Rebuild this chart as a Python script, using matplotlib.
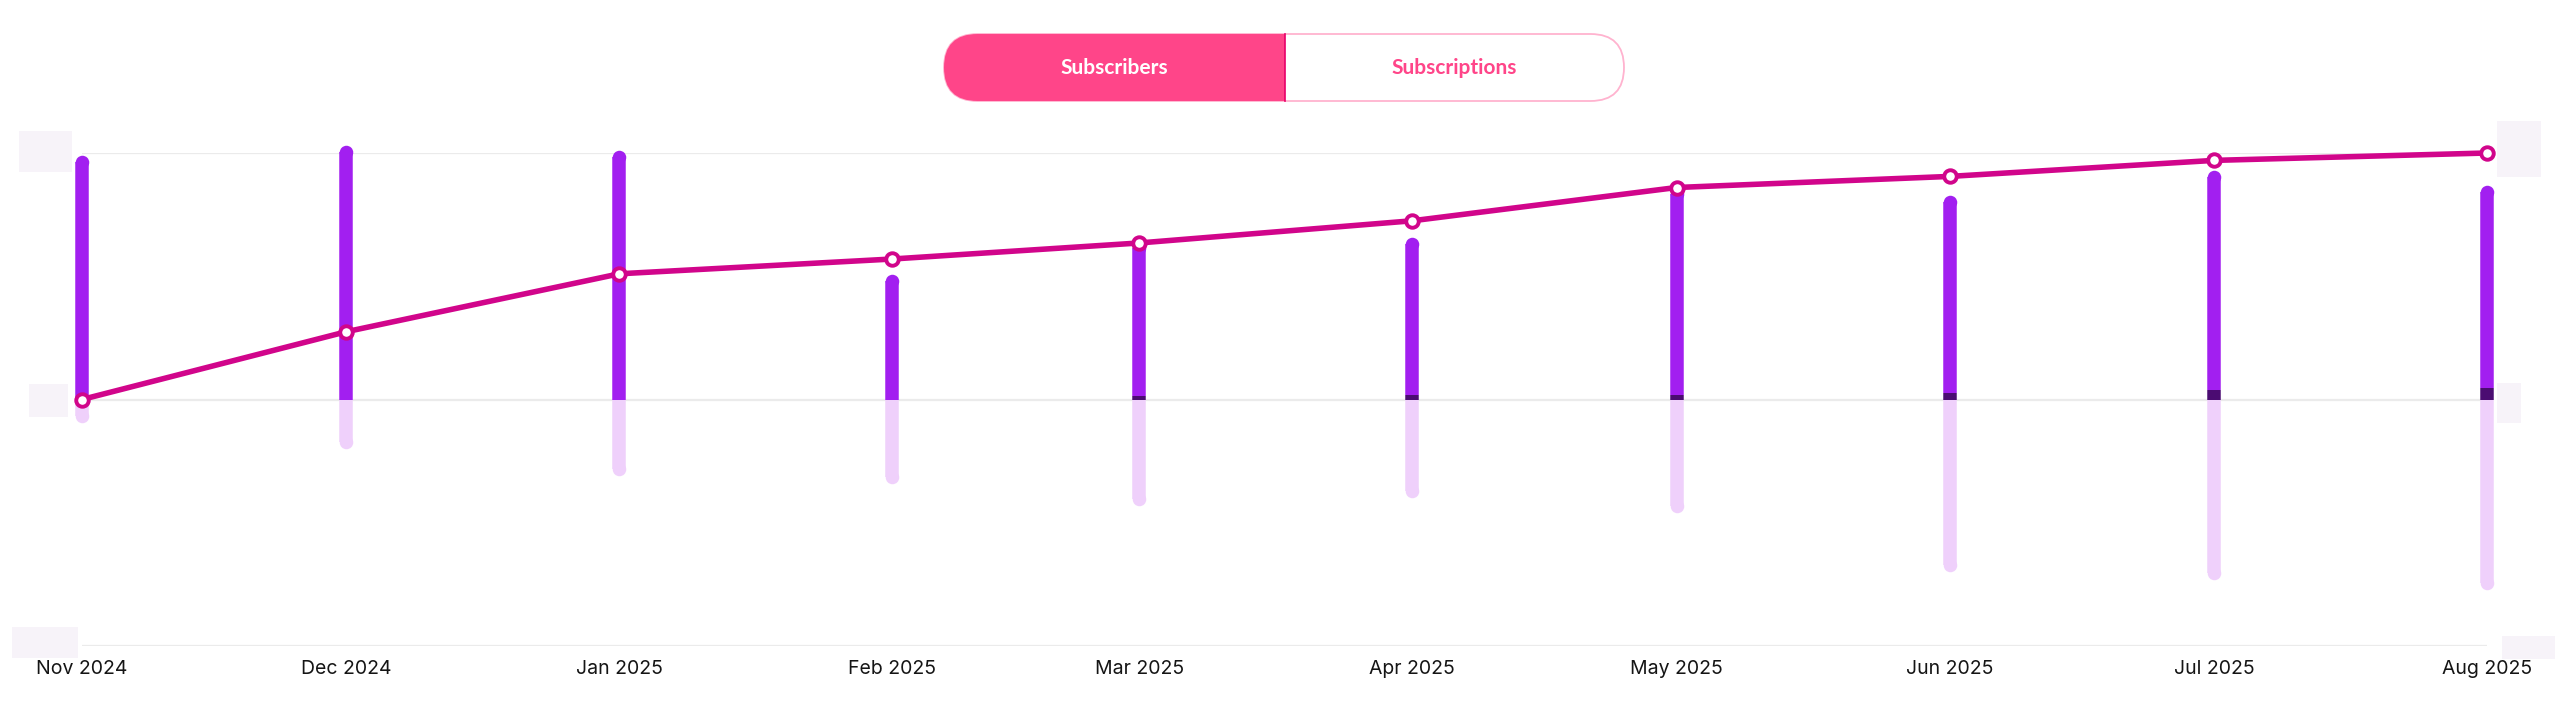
# Biblioteca para crear gráficos
import matplotlib.pyplot as plt
# Parches para el botón y los recuadros de carga
from matplotlib.patches import FancyBboxPatch, Rectangle
# Biblioteca para manejar fechas
import pandas as pd

# Meses del eje x y sus etiquetas
meses = pd.to_datetime(['2024-11-01', '2024-12-01', '2025-01-01', '2025-02-01', '2025-03-01',
                        '2025-04-01', '2025-05-01', '2025-06-01', '2025-07-01', '2025-08-01'])
etiquetas = ['Nov 2024', 'Dec 2024', 'Jan 2025', 'Feb 2025', 'Mar 2025',
             'Apr 2025', 'May 2025', 'Jun 2025', 'Jul 2025', 'Aug 2025']
# Altas nuevas (barra morada), reactivaciones (parte oscura) y bajas (barra clara)
altas = [99, 103, 101, 51, 64, 66, 86, 83, 93, 87]
reactivaciones = [0, 0, 0, 0, 1.3, 2.0, 1.8, 2.6, 3.8, 4.5]
bajas = [-9.5, -20, -31, -34, -43, -40, -46, -70, -73, -77]
# Evolución del total de suscriptores (línea)
total = [0, 27.5, 51, 57, 63.5, 72.5, 86, 90.5, 97, 100]

# Colores
morado = '#a21ff0'
morado_oscuro = '#4b0c72'
morado_claro = '#efd0fb'
magenta = '#d1058b'
rosa = '#ff4589'
gris_rejilla = '#ebebeb'
gris_carga = '#f7f3f9'

ancho_px, alto_px, dpi = 2560, 711, 100
fig = plt.figure(figsize=(ancho_px / dpi, alto_px / dpi), dpi=dpi)
fig.patch.set_facecolor('white')

# Ejes del gráfico: de x=82 a x=2487 px, y de 153 a 646 px (desde arriba)
izq, der, arriba, abajo = 82, 2487, 153, 646
ax = fig.add_axes([izq / ancho_px, (alto_px - abajo) / alto_px,
                   (der - izq) / ancho_px, (abajo - arriba) / alto_px])
ax.set_xlim(meses[0], meses[-1])
ax.set_ylim(-100, 100)
ax.axis('off')

# Líneas de rejilla
for y in [-100, 0, 100]:
    ax.axhline(y, color=gris_rejilla, lw=1.6, zorder=0)

# Conversión de píxeles a unidades de datos y a puntos
px_por_unidad = (abajo - arriba) / 200
ancho_barra = 13.5
radio = ancho_barra / 2 / px_por_unidad
lw_barra = ancho_barra * 72 / dpi

# Barras con el extremo redondeado
for i in range(len(meses)):
    # Parte morada (altas)
    ax.vlines(meses[i], reactivaciones[i], altas[i] - radio, color=morado, lw=lw_barra, zorder=2, clip_on=False)
    ax.plot(meses[i], altas[i] - radio, 'o', color=morado, ms=lw_barra, mew=0, zorder=2, clip_on=False)
    # Parte oscura (reactivaciones)
    if reactivaciones[i] > 0:
        ax.vlines(meses[i], 0, reactivaciones[i], color=morado_oscuro, lw=lw_barra, zorder=3, clip_on=False)
    # Parte clara (bajas)
    ax.vlines(meses[i], 0, bajas[i] + radio, color=morado_claro, lw=lw_barra, zorder=1, clip_on=False)
    ax.plot(meses[i], bajas[i] + radio, 'o', color=morado_claro, ms=lw_barra, mew=0, zorder=1, clip_on=False)

# Línea del total con marcadores blancos
ax.plot(meses, total, color=magenta, lw=4, marker='o', ms=9, mfc='white', mec=magenta,
        mew=2.8, zorder=5, clip_on=False, solid_joinstyle='round')

# Etiquetas del eje x
for fecha, texto in zip(meses, etiquetas):
    ax.annotate(texto, xy=(fecha, 0), xycoords=('data', 'figure fraction'),
                xytext=(0, (alto_px - 669) * 72 / dpi), textcoords='offset points',
                ha='center', va='center', fontsize=14, family='Inter', color='#151515')

# Capa superior en píxeles para el botón y los recuadros de carga
capa = fig.add_axes([0, 0, 1, 1], zorder=10)
capa.set_xlim(0, ancho_px)
capa.set_ylim(alto_px, 0)
capa.axis('off')
capa.patch.set_alpha(0)

# Recuadros grises de carga a ambos lados
for x0, y0, x1, y1 in [(19, 131, 72, 172), (29, 384, 68, 417), (12, 627, 78, 658),
                       (2497, 121, 2541, 177), (2497, 383, 2521, 423), (2502, 636, 2555, 659)]:
    capa.add_patch(Rectangle((x0, y0), x1 - x0, y1 - y0, color=gris_carga, lw=0))

# Botón con dos opciones
bx0, bx1, by0, by1, division = 944, 1624, 34, 101, 1285
alto_boton = by1 - by0
contorno = FancyBboxPatch((bx0, by0), bx1 - bx0, alto_boton,
                          boxstyle=f'round,pad=0,rounding_size={alto_boton / 2}',
                          fc='white', ec='#ffb3cf', lw=1.3)
capa.add_patch(contorno)
relleno = FancyBboxPatch((bx0, by0), bx1 - bx0, alto_boton,
                         boxstyle=f'round,pad=0,rounding_size={alto_boton / 2}',
                         fc=rosa, ec='none')
capa.add_patch(relleno)
recorte = Rectangle((bx0 - 5, by0 - 5), division - bx0 + 5, alto_boton + 10, transform=capa.transData)
relleno.set_clip_path(recorte)
capa.plot([division, division], [by0, by1], color='#e8006a', lw=1.2)
capa.text((bx0 + division) / 2, (by0 + by1) / 2 + 1, 'Subscribers', ha='center', va='center',
          fontsize=15, family='Lato', fontweight='bold', color='white')
capa.text((division + bx1) / 2, (by0 + by1) / 2 + 1, 'Subscriptions', ha='center', va='center',
          fontsize=15, family='Lato', fontweight='bold', color=rosa)

plt.savefig('out.png', dpi=dpi, facecolor='white')
